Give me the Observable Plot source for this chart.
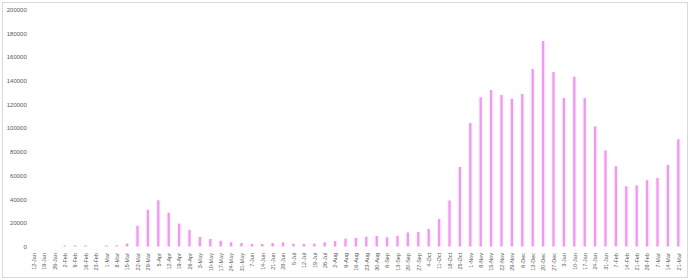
<!DOCTYPE html>
<html>
<head>
<meta charset="utf-8">
<script src="https://cdn.jsdelivr.net/npm/d3@7"></script>
<script src="https://cdn.jsdelivr.net/npm/@observablehq/plot@0.6"></script>
<style>
  html, body { margin: 0; padding: 0; background: #fff; }
  #wrap { position: relative; width: 690px; height: 280px; }
  #border { position: absolute; left: 2px; top: 2px; width: 684px; height: 274px; border: 1px solid #d9d9d9; box-sizing: content-box; pointer-events: none; }
  #chart { position: absolute; left: 0; top: 0; }
</style>
</head>
<body>
<div id="wrap"><div id="chart"></div><div id="border"></div></div>
<script>
const weeks = [
  "12-Jan","19-Jan","26-Jan","2-Feb","9-Feb","16-Feb","23-Feb","1-Mar","8-Mar","15-Mar",
  "22-Mar","29-Mar","5-Apr","12-Apr","19-Apr","26-Apr","3-May","10-May","17-May","24-May",
  "31-May","7-Jun","14-Jun","21-Jun","28-Jun","5-Jul","12-Jul","19-Jul","26-Jul","2-Aug",
  "9-Aug","16-Aug","23-Aug","30-Aug","6-Sep","13-Sep","20-Sep","27-Sep","4-Oct","11-Oct",
  "18-Oct","25-Oct","1-Nov","8-Nov","15-Nov","22-Nov","29-Nov","6-Dec","13-Dec","20-Dec",
  "27-Dec","3-Jan","10-Jan","17-Jan","24-Jan","31-Jan","7-Feb","14-Feb","21-Feb","28-Feb",
  "7-Mar","14-Mar","21-Mar"
];
const counts = [
  0, 0, 0, 900, 900, 900, 0, 900, 1000, 2500,
  17500, 31000, 39000, 28500, 19300, 14000, 8000, 6300, 4900, 3500,
  3000, 2100, 2100, 2900, 3500, 2400, 2100, 2400, 3500, 4600,
  6600, 7200, 8300, 8900, 7800, 9100, 11800, 12300, 14800, 23200,
  38800, 67100, 104200, 125900, 132100, 127800, 124700, 128700, 149800, 173400,
  147300, 125300, 143300, 125300, 101400, 81200, 67700, 50800, 51600, 55900,
  57800, 68800, 90500
];
const yTicks = [0, 20000, 40000, 60000, 80000, 100000, 120000, 140000, 160000, 180000, 200000];

const data = weeks.map((w, i) => ({week: w, value: counts[i]}));

const M = {marginLeft: 28.3, marginRight: 6.5, marginTop: 9.5, marginBottom: 33.5};

const chart = Plot.plot({
  width: 690,
  height: 280,
  ...M,
  style: {fontFamily: "'Liberation Sans', Arial, sans-serif", color: "#595959", background: "transparent"},
  x: {domain: weeks, padding: 0, round: false, label: null},
  y: {domain: [0, 200000], label: null},
  marks: [
    Plot.barY(data, {x: "week", y: "value", fill: "#ff8fff", insetLeft: 4, insetRight: 4}),
    Plot.axisY({...M, ticks: yTicks, tickSize: 0, tickPadding: 2, tickFormat: d3.format("d"), fontSize: 6, fill: "#595959", label: null}),
    Plot.axisX({...M, tickSize: 0, tickPadding: 6, tickRotate: -90, fontSize: 5.5, fill: "#595959", label: null})
  ]
});
document.getElementById("chart").appendChild(chart);
</script>
</body>
</html>
